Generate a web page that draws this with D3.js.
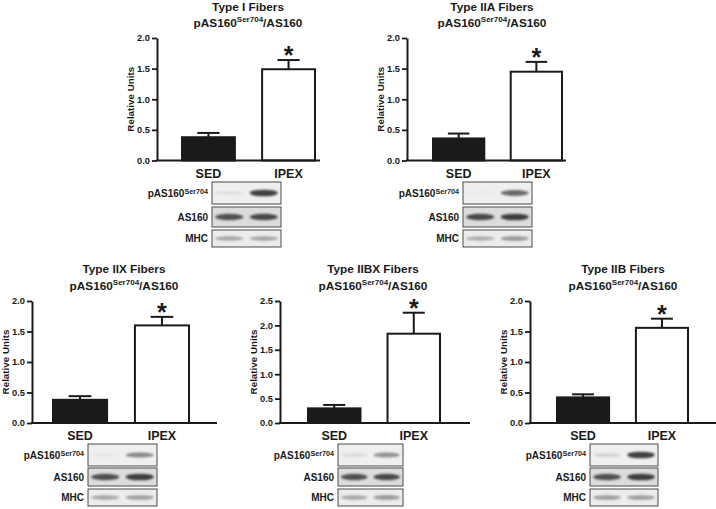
<!DOCTYPE html>
<html>
<head>
<meta charset="utf-8">
<script src="https://cdn.jsdelivr.net/npm/d3@7"></script>
<style>
  body { margin: 0; background: #fff; }
  text { font-family: "Liberation Sans", Arial, sans-serif; font-weight: bold; fill: #1a1a1a; }
</style>
</head>
<body>
<svg id="fig" width="716" height="509"></svg>
<script>
// ---- data ----
var fiberTypes = ["Type I", "Type IIA", "Type IIX", "Type IIBX", "Type IIB"];
var groups = ["SED", "IPEX"];
var sedMean  = [0.38, 0.36, 0.38, 0.30, 0.42];
var sedSem   = [0.07, 0.08, 0.06, 0.07, 0.05];
var ipexMean = [1.49, 1.45, 1.60, 1.83, 1.56];
var ipexSem  = [0.15, 0.16, 0.14, 0.43, 0.15];
var yMax     = [2.0, 2.0, 2.0, 2.5, 2.0];
var yStep    = 0.5;
var significant = [true, true, true, true, true];

// western blot rows and band intensities (SED, IPEX), 0..1
var blotRows = ["pAS160", "AS160", "MHC"];
var bandsPAS160 = [[0.08, 0.85], [0.03, 0.65], [0.04, 0.5], [0.1, 0.45], [0.15, 0.85]];
var bandsAS160  = [[0.75, 0.8], [0.8, 0.85], [0.75, 0.85], [0.75, 0.8], [0.75, 0.85]];
var bandsMHC    = [[0.35, 0.35], [0.3, 0.4], [0.35, 0.38], [0.35, 0.4], [0.38, 0.38]];

// ---- layout (pixels) ----
var topRowsY = [[182, 204], [207, 227], [230, 247]];
var botRowsY = [[444, 466], [468, 486], [489, 506]];
var layout = [
  { x0: 157, b0: 182, b1: 315, x1: 320, yTop: 38,  yBot: 160.5, tX: 248, tY: 10.5, blotX: 212, blotW: 69, rowsY: topRowsY },
  { x0: 407, b0: 433, b1: 562, x1: 566, yTop: 38,  yBot: 160.5, tX: 492, tY: 10.5, blotX: 463, blotW: 69, rowsY: topRowsY },
  { x0: 32,  b0: 53,  b1: 189, x1: 217, yTop: 301, yBot: 423,   tX: 124, tY: 273,  blotX: 88,  blotW: 69, rowsY: botRowsY },
  { x0: 280, b0: 308, b1: 440, x1: 470, yTop: 301, yBot: 423,   tX: 373, tY: 273,  blotX: 338, blotW: 65, rowsY: botRowsY },
  { x0: 530, b0: 557, b1: 688, x1: 716, yTop: 301, yBot: 423,   tX: 623, tY: 273,  blotX: 590, blotW: 68, rowsY: botRowsY }
];
var rowFill = ["#efefef", "#dcdcdc", "#ececec"];

var svg = d3.select("#fig");
var defs = svg.append("defs");
defs.append("filter").attr("id", "blur")
    .attr("x", "-50%").attr("y", "-100%").attr("width", "200%").attr("height", "300%")
  .append("feGaussianBlur").attr("stdDeviation", 1.3);

layout.forEach(function(L, i) {
  var g = svg.append("g");

  var y = d3.scaleLinear().domain([0, yMax[i]]).range([L.yBot, L.yTop]);
  var x = d3.scaleBand().domain(groups).range([L.b0, L.b1]).paddingInner(0.34);

  var means = [sedMean[i], ipexMean[i]];
  var sems = [sedSem[i], ipexSem[i]];
  var data = groups.map(function(k, j) { return { group: k, mean: means[j], sem: sems[j] }; });

  // title
  g.append("text").attr("x", L.tX).attr("y", L.tY)
      .attr("text-anchor", "middle").style("font-size", "11.8px")
      .text(fiberTypes[i] + " Fibers");
  var t2 = g.append("text").attr("x", L.tX).attr("y", L.tY + 16.5)
      .attr("text-anchor", "middle").style("font-size", "11.8px");
  t2.append("tspan").text("pAS160");
  t2.append("tspan").attr("dy", -5).style("font-size", "8px").text("Ser704");
  t2.append("tspan").attr("dy", 5).text("/AS160");

  // y axis
  var axisLeft = d3.axisLeft(y)
      .tickValues(d3.range(0, yMax[i] + 1e-6, yStep))
      .tickFormat(d3.format(".1f"))
      .tickSize(5).tickSizeOuter(0).tickPadding(2);
  var ya = g.append("g").attr("transform", "translate(" + L.x0 + ",0)").call(axisLeft);
  ya.select(".domain").attr("stroke", "#1a1a1a").attr("stroke-width", 2);
  ya.selectAll(".tick line").attr("stroke", "#1a1a1a").attr("stroke-width", 1.8);
  ya.selectAll(".tick text").style("font-size", "9.3px")
      .style("font-family", "'Liberation Sans', Arial, sans-serif").style("font-weight", "bold").attr("fill", "#1a1a1a");

  g.append("text")
      .attr("transform", "translate(" + (L.x0 - 23.5) + "," + ((L.yTop + L.yBot) / 2) + ") rotate(-90)")
      .attr("text-anchor", "middle").style("font-size", "9.8px")
      .text("Relative Units");

  // bars
  g.selectAll("rect.bar").data(data).enter().append("rect")
      .attr("class", "bar")
      .attr("x", function(d) { return x(d.group); })
      .attr("y", function(d) { return y(d.mean); })
      .attr("width", x.bandwidth())
      .attr("height", function(d) { return y(0) - y(d.mean); })
      .attr("fill", function(d, j) { return j === 0 ? "#1a1a1a" : "#fff"; })
      .attr("stroke", "#1a1a1a").attr("stroke-width", 2);

  // error bars (upper only)
  var capW = x.bandwidth() * 0.42;
  g.selectAll("line.err").data(data).enter().append("line")
      .attr("class", "err")
      .attr("x1", function(d) { return x(d.group) + x.bandwidth() / 2; })
      .attr("x2", function(d) { return x(d.group) + x.bandwidth() / 2; })
      .attr("y1", function(d) { return y(d.mean); })
      .attr("y2", function(d) { return y(d.mean + d.sem); })
      .attr("stroke", "#1a1a1a").attr("stroke-width", 2);
  g.selectAll("line.cap").data(data).enter().append("line")
      .attr("class", "cap")
      .attr("x1", function(d) { return x(d.group) + x.bandwidth() / 2 - capW / 2; })
      .attr("x2", function(d) { return x(d.group) + x.bandwidth() / 2 + capW / 2; })
      .attr("y1", function(d) { return y(d.mean + d.sem); })
      .attr("y2", function(d) { return y(d.mean + d.sem); })
      .attr("stroke", "#1a1a1a").attr("stroke-width", 2);

  // significance star
  if (significant[i]) {
    var d1 = data[1];
    g.append("text")
        .attr("x", x(d1.group) + x.bandwidth() / 2)
        .attr("y", y(d1.mean + d1.sem) + 4)
        .attr("text-anchor", "middle").style("font-size", "25px")
        .text("*");
  }

  // x axis line and labels
  g.append("line").attr("x1", L.x0 - 1).attr("x2", L.x1)
      .attr("y1", L.yBot).attr("y2", L.yBot)
      .attr("stroke", "#1a1a1a").attr("stroke-width", 2);
  var axisBottom = d3.axisBottom(x).tickSize(0).tickPadding(0);
  var xa = g.append("g").attr("transform", "translate(0," + L.yBot + ")").call(axisBottom);
  xa.select(".domain").remove();
  xa.selectAll(".tick text").attr("dy", null).attr("y", 17)
      .style("font-size", "12.5px")
      .style("font-family", "'Liberation Sans', Arial, sans-serif").style("font-weight", "bold").attr("fill", "#1a1a1a");

  // western blot
  var lanes = d3.scaleBand().domain(groups).range([L.blotX, L.blotX + L.blotW])
      .paddingInner(0.1).paddingOuter(0.05);
  var bandSets = [bandsPAS160[i], bandsAS160[i], bandsMHC[i]];
  blotRows.forEach(function(name, r) {
    var ry = L.rowsY[r];
    var h = ry[1] - ry[0];
    g.append("rect").attr("x", L.blotX).attr("y", ry[0])
        .attr("width", L.blotW).attr("height", h)
        .attr("fill", rowFill[r]).attr("stroke", "#4a4a4a").attr("stroke-width", 1);
    g.selectAll(null).data(groups).enter().append("ellipse")
        .attr("cx", function(k) { return lanes(k) + lanes.bandwidth() / 2; })
        .attr("cy", ry[0] + h / 2)
        .attr("rx", lanes.bandwidth() * 0.45)
        .attr("ry", function(k, j) { return 1.5 + 2.2 * bandSets[r][j]; })
        .attr("fill", "#222")
        .attr("opacity", function(k, j) { return bandSets[r][j]; })
        .attr("filter", "url(#blur)");
    var lab = g.append("text").attr("x", L.blotX - 4).attr("y", ry[0] + h / 2 + 3.5)
        .attr("text-anchor", "end").style("font-size", "10px");
    lab.append("tspan").text(name);
    if (r === 0) lab.append("tspan").attr("dy", -3).style("font-size", "7.2px").text("Ser704");
  });
});
</script>
</body>
</html>
